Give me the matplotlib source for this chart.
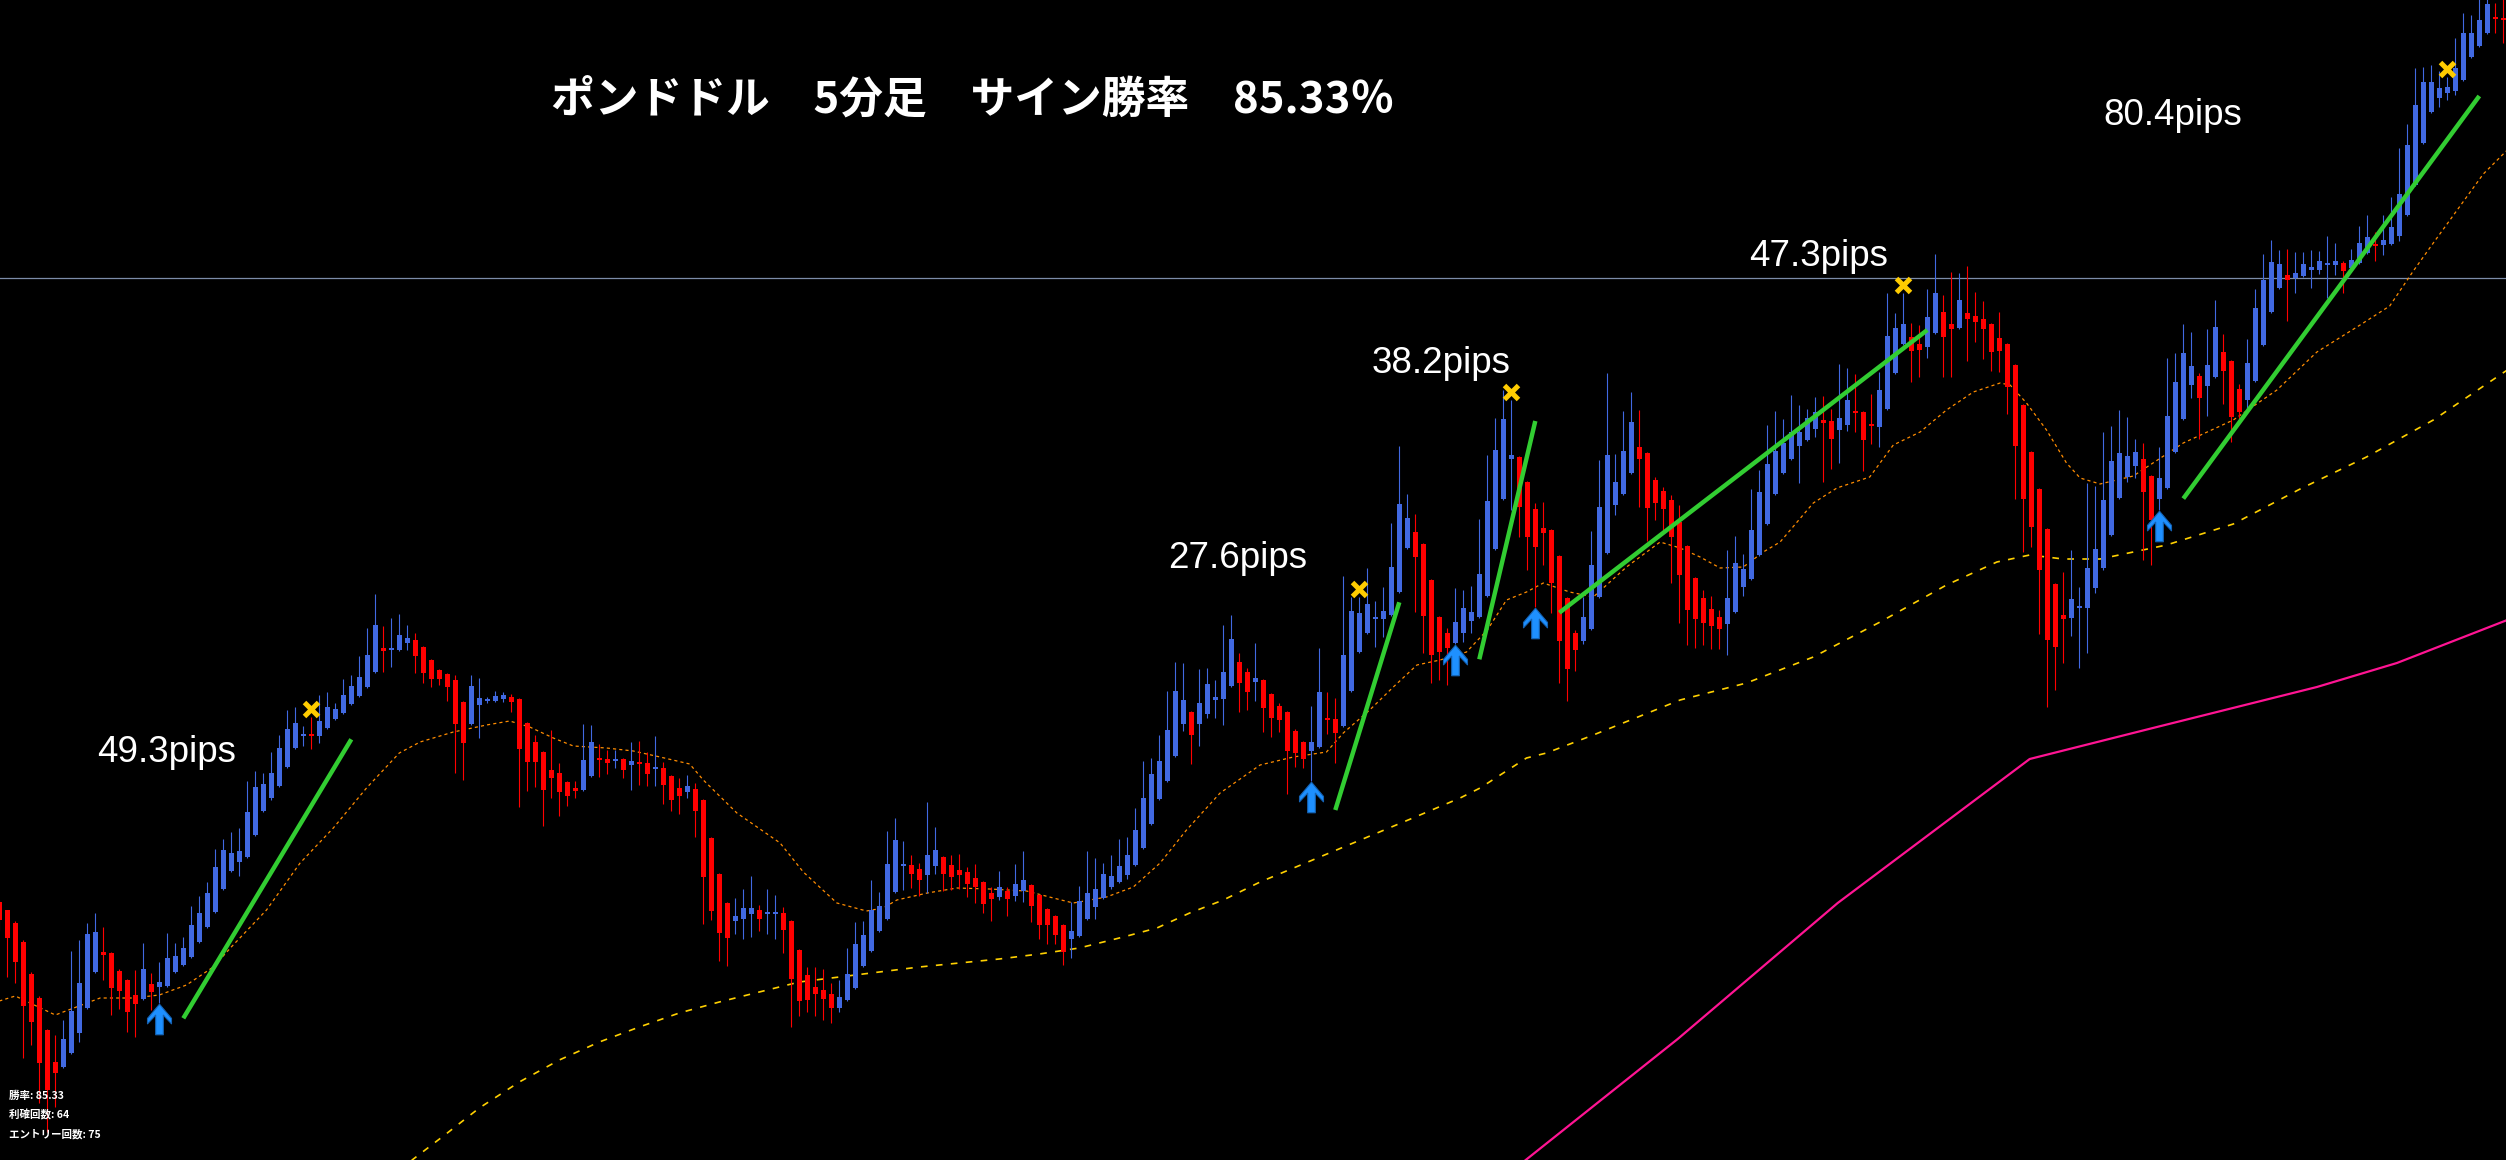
import numpy as np
import matplotlib
matplotlib.use("Agg")
import matplotlib.pyplot as plt
from matplotlib.path import Path

plt.rcParams['font.family'] = ['Noto Sans CJK JP', 'DejaVu Sans']

# ---- GBPUSD 5min candles (price level in chart points, one point ~ 0.19 pip) ----
open_ = [258, 250, 237, 218, 186, 162, 130, 98, 93, 107,
         127, 152, 188, 208, 207, 189, 180, 165, 161, 176,
         173, 174, 188, 195, 203, 218, 233, 248, 271, 289,
         298, 303, 325, 349, 362, 374, 393, 412, 424, 425,
         424, 432, 441, 447, 456, 464, 473, 488, 512, 510,
         510, 517, 520, 513, 500, 490, 486, 480, 458, 436,
         455, 459, 459, 461, 463, 461, 437, 418, 408, 390,
         387, 378, 372, 370, 384, 402, 401, 399, 401, 395,
         397, 397, 391, 392, 384, 372, 368, 371, 360, 322,
         286, 257, 239, 241, 246, 250, 246, 246.5, 247, 239,
         210, 185, 173, 170, 166, 152, 160, 172, 194, 209,
         229, 241, 268, 294, 295, 291, 285, 294, 303, 295,
         290, 288, 282, 278, 267, 263, 269, 264, 269, 275,
         265, 251, 244, 235, 221, 224, 241, 253, 262, 273,
         278, 285, 295, 312, 336, 361, 379, 404, 436, 448,
         436, 446, 460, 461, 474, 498, 488, 478, 480, 466,
         454, 448, 429, 418, 409, 413, 441, 441, 434, 469,
         508, 527, 541, 541, 545, 568, 612, 628, 616, 580,
         543, 527, 517, 527, 539, 543, 564, 611, 661, 701,
         703, 678, 651, 632, 630, 604, 562, 527, 519, 531,
         563, 607, 655, 666, 687, 713, 707, 680, 669, 660,
         638, 614, 582, 562, 551, 543, 536, 548, 573, 581,
         605, 636, 666, 687, 701, 714, 720, 731, 740, 739,
         730, 735, 748, 748, 735, 733, 751, 787, 816, 823,
         816, 813, 827, 848, 836, 832, 847, 844, 841, 836,
         822, 816, 795, 755, 708, 671, 631, 576, 545, 542,
         552, 552, 572, 592, 625, 662, 683, 694, 701, 684,
         661, 672, 708, 741, 775, 784, 774, 783, 808, 799,
         771, 760, 779, 815, 848, 872, 885, 882, 884, 890,
         890, 895, 895, 897, 892, 897, 907, 915, 915, 916,
         924, 945, 975, 1017, 1048, 1062, 1067, 1069, 1080, 1103,
         1114, 1127, 1142, 1141]
high = [260, 250, 239, 220, 188, 164, 131, 125, 140, 209,
        220, 237, 247, 233, 208, 191, 181, 190, 217, 187,
        198, 227, 217, 223, 254, 264, 278, 311, 321, 328,
        332, 379, 389, 387, 408, 425, 450, 453, 434, 443,
        465, 468, 457, 481, 485, 504, 532, 566, 534, 542,
        546, 535, 527, 514, 501, 491, 487, 485, 459, 485,
        482, 463, 469, 468, 466, 462, 438, 425, 409, 430,
        397, 379, 379, 436, 435, 416, 410, 410, 402, 418,
        419, 408, 424, 398, 385, 382, 385, 377, 361, 323,
        287, 258, 262, 271, 284, 255, 271, 265, 253, 240,
        211, 193, 193, 191, 177, 180, 212, 238, 239, 280,
        268, 329, 342, 319, 305, 297, 358, 333, 304, 305,
        306, 293, 296, 279, 273, 289, 273, 296, 309, 276,
        266, 252, 245, 236, 258, 274, 309, 302, 297, 305,
        321, 323, 352, 399, 402, 425, 469, 498, 497, 449,
        491, 492, 480, 535, 545, 507, 492, 517, 481, 467,
        457, 449, 431, 419, 454, 512, 468, 462, 584, 563,
        563, 592, 559, 573, 637, 714, 666, 646, 617, 581,
        544, 532, 572, 570, 574, 641, 705, 742, 770, 760,
        704, 679, 657, 658, 631, 605, 563, 530, 563, 629,
        700, 787, 706, 749, 768, 750, 708, 683, 673, 665,
        655, 615, 583, 570, 564, 550, 610, 624, 606, 671,
        690, 735, 749, 741, 765, 755, 751, 763, 764, 751,
        796, 792, 786, 749, 766, 788, 867, 847, 867, 837,
        835, 871, 906, 865, 888, 887, 894, 868, 859, 837,
        848, 817, 796, 756, 709, 672, 632, 577, 588, 610,
        573, 677, 674, 728, 734, 750, 743, 721, 717, 685,
        713, 802, 807, 836, 828, 787, 831, 860, 826, 800,
        776, 821, 871, 906, 920, 910, 911, 908, 908, 910,
        909, 924, 917, 899, 911, 934, 945, 928, 945, 963,
        1012, 1036, 1092, 1093, 1095, 1089, 1083, 1122, 1147, 1145,
        1165, 1165, 1157, 1165]
low = [230, 183, 177, 102, 115, 57, 28, 53, 92, 106,
       118, 151, 187, 180, 145, 151, 128, 123, 160, 150,
       157, 173, 187, 194, 202, 217, 232, 247, 270, 288,
       284, 302, 324, 348, 360, 373, 392, 411, 414, 411,
       417, 431, 440, 446, 455, 463, 472, 487, 488, 493,
       509, 510, 487, 477, 473, 475, 459, 387, 380, 435,
       422, 457, 458, 458, 448, 353, 369, 373, 334, 362,
       344, 354, 362, 369, 383, 383, 386, 392, 382, 370,
       375, 374, 374, 356, 349, 346, 362, 323, 236, 240,
       199, 194, 226, 221, 223, 229, 226, 221, 207, 133,
       144, 148, 144, 140, 137, 148, 159, 171, 193, 208,
       228, 240, 267, 270, 272, 264, 267, 286, 269, 270,
       271, 263, 257, 247, 239, 260, 244, 259, 258, 238,
       221, 216, 216, 195, 202, 223, 240, 241, 261, 271,
       277, 281, 294, 311, 335, 360, 378, 403, 429, 396,
       414, 442, 442, 435, 473, 448, 450, 459, 428, 423,
       428, 366, 393, 392, 379, 412, 426, 397, 433, 468,
       507, 526, 513, 523, 544, 567, 611, 548, 507, 477,
       480, 475, 516, 518, 527, 542, 563, 610, 660, 650,
       623, 590, 553, 595, 547, 477, 459, 489, 516, 530,
       562, 606, 645, 665, 686, 653, 619, 640, 630, 577,
       537, 515, 512, 515, 511, 511, 505, 547, 564, 580,
       604, 635, 665, 686, 700, 677, 719, 723, 678, 691,
       697, 729, 728, 689, 716, 713, 750, 786, 815, 778,
       783, 802, 826, 783, 783, 831, 799, 818, 801, 789,
       788, 746, 661, 608, 613, 526, 453, 470, 497, 524,
       492, 507, 567, 590, 624, 661, 678, 682, 600, 595,
       650, 671, 707, 740, 762, 721, 744, 782, 756, 718,
       741, 748, 778, 814, 847, 871, 839, 867, 883, 872,
       886, 862, 885, 867, 891, 896, 906, 899, 905, 915,
       919, 944, 974, 1016, 1047, 1053, 1060, 1065, 1079, 1102,
       1113, 1126, 1127, 1117]
close = [240, 222, 198, 154, 138, 97, 70, 87, 121, 149,
         177, 226, 228, 205, 172, 169, 148, 156, 191, 168,
         178, 202, 204, 212, 235, 247, 267, 293, 310, 307,
         309, 348, 373, 376, 387, 412, 431, 437, 426, 424,
         439, 453, 451, 465, 474, 483, 505, 535, 509, 511,
         525, 522, 504, 487, 481, 481, 473, 436, 417, 474,
         462, 461, 464, 465, 458, 411, 398, 398, 370, 382,
         368, 364, 369, 400, 418, 400, 397, 401, 390, 399,
         396, 386, 393, 375, 360, 364, 374, 349, 283, 249,
         227, 222, 244, 252, 252, 241, 247, 248, 230, 181,
         159, 160, 166, 161, 152, 163, 186, 216, 225, 250,
         254, 296, 320, 296, 286, 280, 305, 310, 286, 283,
         285, 276, 273, 256, 261, 273, 261, 276, 280, 254,
         235, 235, 225, 208, 229, 259, 267, 271, 286, 284,
         294, 305, 330, 362, 386, 399, 430, 469, 460, 425,
         457, 476, 463, 488, 521, 477, 468, 482, 452, 442,
         440, 409, 407, 401, 418, 468, 440, 427, 505, 549,
         547, 556, 543, 549, 593, 656, 642, 603, 544, 505,
         508, 512, 538, 552, 548, 586, 659, 710, 741, 705,
         653, 623, 613, 627, 577, 519, 491, 510, 543, 595,
         653, 705, 678, 709, 738, 701, 652, 657, 651, 623,
         585, 550, 541, 537, 534, 531, 562, 597, 591, 630,
         668, 696, 709, 717, 728, 728, 742, 748, 737, 721,
         742, 760, 747, 720, 734, 770, 824, 832, 836, 809,
         810, 843, 867, 823, 831, 860, 841, 838, 831, 808,
         809, 773, 714, 661, 633, 590, 520, 513, 541, 561,
         554, 592, 611, 660, 699, 707, 704, 708, 668, 640,
         682, 744, 778, 807, 794, 762, 795, 833, 789, 743,
         748, 797, 852, 880, 898, 896, 880, 887, 896, 893,
         899, 897, 899, 889, 900, 917, 923, 914, 920, 933,
         966, 1015, 1055, 1078, 1078, 1072, 1073, 1092, 1127, 1127,
         1140, 1156, 1141.5, 1140]

# moving averages, read at candle positions
ma_fast_idx = [0, 2, 7, 12.6, 16.75, 20, 23.4, 26.75, 29, 33.4, 37.6, 41.75, 45.9, 50, 52.6,
               56.75, 60.9, 63.8, 66.3, 69.25, 71.75, 75.9, 79.25, 82.6, 86.3, 88, 92.2, 97.6,
               100.5, 104.7, 108.4, 110.5, 112.2, 116, 119.7, 123.8, 128.4, 131.75, 134.25,
               138.4, 141.75, 145.1, 148.4, 152.6, 157.6, 161.75, 165.9, 168, 171.3, 174.25,
               177.2, 180.1, 183.4, 186, 188.4, 190.9, 193, 196.3, 199.25, 203.4, 207.6, 210.1,
               212.6, 215.1, 218, 220.5, 222.6, 226.75, 229.7, 233.8, 236.75, 240.1, 243.4,
               246.75, 250.1, 251.35, 253.4, 255.9, 258.4, 260.1, 262.6, 266.75, 273, 279.25,
               284.7, 289.7, 295.1, 298.8, 301.75, 304.25, 307.6, 310.5, 313.5]
ma_fast = [159, 164, 145, 162, 162, 165, 175, 193, 213, 250, 297, 332, 372, 407, 418,
           428, 435, 439, 433, 422, 414, 412, 409, 403, 396, 380, 347, 317,
           288, 257, 249, 252, 260, 267, 272, 271, 269, 262, 257,
           263, 273, 297, 330, 367, 395, 403, 408, 427, 450, 473,
           495, 500, 508, 530, 560, 568, 577, 568, 563, 593, 618, 612,
           603, 592, 593, 608, 618, 657, 672, 683, 715, 728, 750,
           768, 777, 775, 757, 730, 697, 682, 676, 684, 717, 740,
           770, 808, 835, 854, 889, 917, 954, 986, 1010]

ma_mid_idx = [51, 51.6, 56, 60, 65, 70, 75, 80, 85, 90, 95, 100, 105, 110, 115, 120, 125,
              130, 135, 140.5, 144.7, 148.8, 153, 157.6, 176.7, 182.6, 185.1, 190.9,
              193.4, 199.25, 210.1, 218.4, 226.75, 235.1, 243.4, 249.7, 253.8, 258, 262.6,
              270.9, 279.25, 287.6, 295.9, 304.25, 313.5]
ma_mid = [-8, 0, 27, 52, 78, 100, 118, 133, 147, 158, 168, 178, 183, 188, 193, 197, 201,
          206, 212, 223, 232, 247, 260, 278, 342, 362, 372, 402,
          407, 425, 460, 477, 503, 538, 575, 598, 605, 601, 601,
          615, 636, 671, 703, 740, 790]

ma_slow_idx = [190.8, 209.8, 229.8, 245.8, 253.8, 269.7, 289.7, 299.7, 313.5]
ma_slow = [0, 121, 257, 353, 401, 433, 473, 497, 540]

level_line = 881.7

# signals and trades
buy_idx = [20, 164, 182, 192, 270]
exit_idx = [39, 170, 189, 238, 306]
trade_from = [23, 167, 185, 195, 273]
trade_to = [44, 175, 192, 241, 310]
trade_from_px = [141.7, 350, 500.7, 547.3, 661.4]
trade_to_px = [420.7, 557.7, 739, 830, 1064]
pips_text = ['49.3pips', '27.6pips', '38.2pips', '47.3pips', '80.4pips']
pips_idx = [20.9, 154.8, 180.2, 227.4, 271.7]
pips_y = [398, 592, 787, 894, 1035]

stats = ['勝率: 85.33', '利確回数: 64', 'エントリー回数: 75']
title = 'ポンドドル　5分足　サイン勝率　85.33％'

o = np.array(open_, float)
h = np.array(high, float)
l = np.array(low, float)
c = np.array(close, float)
idx = np.arange(len(o))
col = np.where(c >= o, '#4169E1', '#FF0000')

fig = plt.figure(figsize=(25.06, 11.6), dpi=100, facecolor='black')
ax = fig.add_axes([0, 0, 1, 1])
ax.set_facecolor('black')
ax.set_xlim(0.0875, 313.3375)
ax.set_ylim(0, 1160)
ax.axis('off')

ax.axhline(level_line, color='#7C8CA8', lw=0.9, zorder=1)

ax.plot(ma_slow_idx, ma_slow, color='#FF1493', lw=1.6, zorder=1)
ax.plot(ma_mid_idx, ma_mid, color='#FFD000', lw=1.2, ls=(0, (4, 5)), zorder=1)
ax.plot(ma_fast_idx, ma_fast, color='#FF8C00', lw=0.9, ls=(0, (2.5, 2.5)), zorder=1)

ax.vlines(idx, l, h, colors=col, lw=0.8, zorder=2)
ax.bar(idx, np.maximum(np.abs(c - o), 1.6), bottom=np.minimum(o, c), width=0.62,
       color=col, linewidth=0, zorder=3)

for a, b, pa, pb in zip(trade_from, trade_to, trade_from_px, trade_to_px):
    ax.plot([a, b], [pa, pb], color='#32CD32', lw=3.2, solid_capstyle='butt', zorder=4)

arrow = Path([(0, 14), (11, 1), (11, -4), (3.5, 4), (3.5, -14), (-3.5, -14),
              (-3.5, 4), (-11, -4), (-11, 1), (0, 14)])
ax.plot(buy_idx, l[buy_idx] - 16, ls='none', marker=arrow, markersize=22,
        markerfacecolor='#1E90FF', markeredgecolor='#1462B4', markeredgewidth=0.8, zorder=5)
ax.plot(exit_idx, h[exit_idx] + 8, ls='none', marker='x', markersize=10,
        markeredgewidth=3.6, color='#FFCC00', zorder=5)

for t, xi, yi in zip(pips_text, pips_idx, pips_y):
    ax.text(xi, yi, t, color='white', fontsize=26.5, family='Liberation Sans',
            ha='center', va='baseline', zorder=6)

fig.text(551 / 2506, 1 - 113 / 1160, title, color='white', fontsize=31.5, weight='bold',
         ha='left', va='baseline')

for k, s in enumerate(stats):
    fig.text(9 / 2506, 1 - (1099 + 19.5 * k) / 1160, s, color='white', fontsize=7.6,
             weight='bold', ha='left', va='baseline')

fig.savefig('out.png', dpi=100, facecolor='black')
